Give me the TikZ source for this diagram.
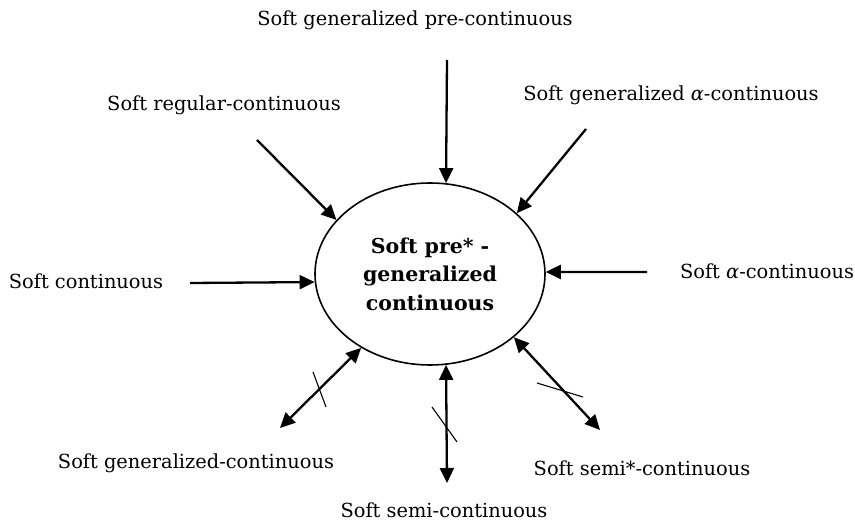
\documentclass[tikz,border=0pt]{standalone}
\usepackage{fontspec}
\setmainfont{DejaVu Serif}
\usetikzlibrary{arrows.meta,shapes.geometric}
\begin{document}
\begin{tikzpicture}[x=1pt,y=-1pt,
  lbl/.style={font=\fontsize{19.4}{23}\selectfont, inner sep=0pt},
  arr/.style={line width=2.3pt, -{Triangle[length=15pt,width=14pt]}},
  darr/.style={line width=2.3pt, {Triangle[length=15pt,width=14pt]}-{Triangle[length=15pt,width=14pt]}},
  slash/.style={line width=1.1pt}]
\useasboundingbox (0,0) rectangle (855,526);
\node[ellipse, draw, line width=1.6pt, minimum width=230pt, minimum height=182pt, inner sep=0pt,
  align=center, font=\fontsize{20.5}{28.5}\selectfont\bfseries] (c) at (430,274)
  {Soft pre* -\\generalized\\continuous};
\node[lbl] (l1) at (415,20) {Soft generalized pre-continuous};
\node[lbl] (l2) at (224,105) {Soft regular-continuous};
\node[lbl] (l3) at (671,95) {Soft generalized \textit{α}-continuous};
\node[lbl] (l4) at (86,281) {Soft continuous};
\node[lbl] (l5) at (767,271) {Soft \textit{α}-continuous};
\node[lbl] (l6) at (196,463) {Soft generalized-continuous};
\node[lbl] (l7) at (642,468) {Soft semi*-continuous};
\node[lbl] (l8) at (444,510) {Soft semi-continuous};
\coordinate (s1) at (447,60);
\coordinate (s2) at (257,140);
\coordinate (s3) at (586,129);
\coordinate (s4) at (190,283);
\coordinate (s5) at (647,272);
\coordinate (s6) at (280,428);
\coordinate (s7) at (447,483);
\coordinate (s8) at (600,430);
\draw[arr] (s1) -- (c.80);
\draw[arr] (s2) -- (c.150);
\draw[arr] (s3) -- (c.35);
\draw[arr] (s4) -- (c.184.5);
\draw[arr] (s5) -- (c.1);
\draw[darr] (s6) -- (c.227);
\draw[darr] (s7) -- (c.280.5);
\draw[darr] (s8) -- (c.323);
\draw[slash] (313,372) -- (326,407);
\draw[slash] (432,407) -- (457,442);
\draw[slash] (537,383) -- (583,397);
\end{tikzpicture}
\end{document}
